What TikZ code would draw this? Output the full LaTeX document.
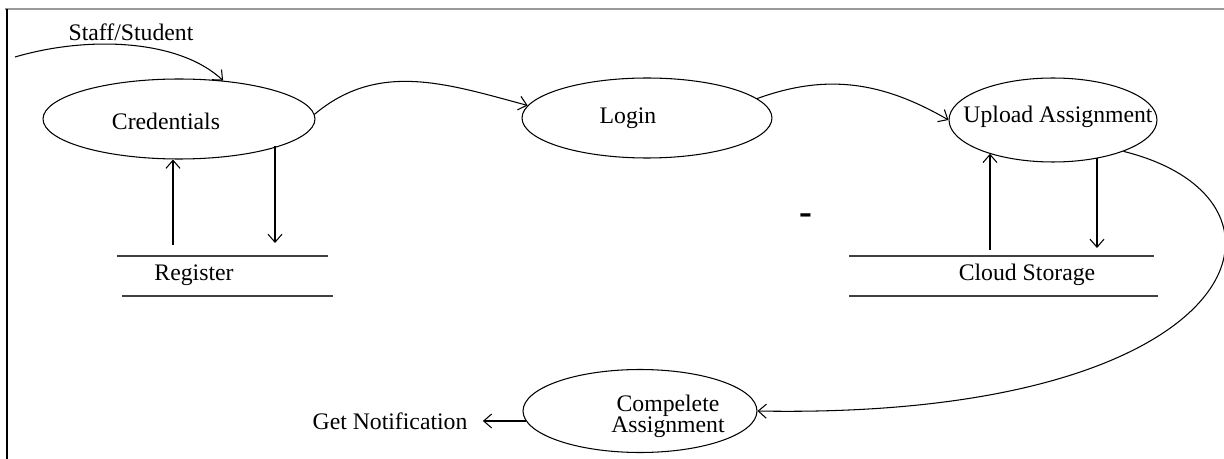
\documentclass[tikz,border=0pt]{standalone}
\usepackage{fontspec}
\setmainfont{Liberation Serif}
\usetikzlibrary{shapes.geometric,arrows.meta,positioning}

\tikzset{
    proc/.style={ellipse, draw, inner sep=0pt},
    flow/.style={-{Straight Barb[length=1.6mm,width=2.8mm]}},
    store/.style={draw=black!75}
}

\begin{document}
\begin{tikzpicture}[x=0.02cm, y=-0.02cm, line width=0.6pt, font=\fontsize{13.5}{15}\selectfont]
    \useasboundingbox (0,0) rectangle (1224,459);

    % frame of the page
    \draw[black!40, line width=1.2pt] (5,9) -- (1224,9);
    \draw[line width=1.2pt] (7,9) -- (7,459);

    % processes
    \node[proc, minimum width=5.44cm, minimum height=1.6cm,
        label={[xshift=-0.26cm, yshift=-0.04cm]center:Credentials}] (cred) at (179,119) {};
    \node[proc, minimum width=5cm, minimum height=1.6cm,
        label={[xshift=-0.38cm]center:Login}] (login) at (647,118) {};
    \node[proc, minimum width=4.16cm, minimum height=1.68cm,
        label={[xshift=0.1cm, yshift=0.06cm]center:Upload Assignment}] (up) at (1053,120) {};
    \node[proc, minimum width=4.68cm, minimum height=1.66cm,
        label={[xshift=0.56cm, yshift=-0.1cm, align=center]center:Compelete\\[-3pt]Assignment}] (comp) at (640,411) {};

    % data stores
    \node (reg) at (194,275) {Register};
    \draw[store] (117,256) -- (328,256) (122,296) -- (333,296);
    \node (cloud) at (1027,275) {Cloud Storage};
    \draw[store] (849,256) -- (1154,256) (849,296) -- (1158,296);

    \node (dash) at (806,219) {\fontsize{22}{22}\selectfont\bfseries -};

    % free ends
    \coordinate (user) at (15,57);
    \coordinate (reg-out) at (173,245);
    \coordinate (reg-in) at (275,243);
    \coordinate (cloud-out) at (990,250);
    \coordinate (cloud-in) at (1097,248);

    \node (staff) at (131,32) {Staff/Student};
    \node (note) [left=0.86cm of comp.185, inner xsep=8.5pt] {Get Notification};

    % flows
    \draw[flow] (user) .. controls (90,35) and (180,40) .. (cred.41);
    \draw[flow] (cred.2) to[out=40, in=165] (login.174);
    \draw[flow] (login.10) to[out=20, in=150] (up.west);
    \draw[flow] (up.-24) .. controls (1320,200) and (1250,420) .. (comp.east);
    \draw[flow] (comp.185) -- (note);

    \draw[flow] (reg-out) -- (reg-out |- cred.south);
    \draw[flow] (reg-in |- cred.-15) -- (reg-in);
    \draw[flow] (cloud-out) -- (cloud-out |- up.208);
    \draw[flow] (cloud-in |- up.-40) -- (cloud-in);
\end{tikzpicture}
\end{document}
